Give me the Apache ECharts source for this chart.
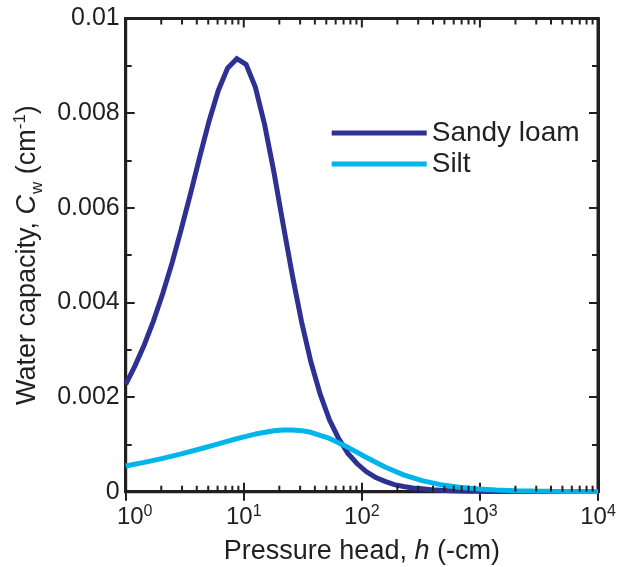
<!DOCTYPE html>
<html><head><meta charset="utf-8">
<script src="https://cdn.jsdelivr.net/npm/echarts@6/dist/echarts.min.js"></script>
<style>html,body{margin:0;padding:0;background:#fff}#c{width:627px;height:567px}</style>
</head><body><div id="c"></div>
<script>
// Pressure head h (-cm), log-spaced sample points
const hSandy = [1, 1.198, 1.435, 1.719, 2.059, 2.467, 2.955, 3.540, 4.241, 5.080,
  6.085, 7.290, 8.733, 10.46, 12.53, 15.01, 17.98, 21.54, 25.81, 30.92,
  37.04, 44.37, 53.15, 63.68, 76.28, 91.38, 109.5, 131.1, 157.1, 188.2,
  225.4, 270.0, 323.5, 387.5, 464.2, 556.1, 666.2, 798.0, 956.0, 1145,
  1372, 1643, 1969, 2358, 2825, 3384, 4054, 4857, 5818, 6970, 8350, 10000];
const cwSandy = [0.00227, 0.00266, 0.00310, 0.00361, 0.00419, 0.00483, 0.00555, 0.00630, 0.00708, 0.00783,
  0.00848, 0.00895, 0.00915, 0.00903, 0.00855, 0.00776, 0.00676, 0.00565, 0.00457, 0.00358,
  0.00274, 0.00206, 0.00152, 0.00112, 0.00081, 0.00059, 0.00042, 0.00030, 0.00022, 0.00015,
  0.00011, 0.00008, 0.00006, 0.00004, 0.00003, 0.00002, 0.000014, 0.00001, 0.000007, 0.000005,
  0.000004, 0.000003, 0.000002, 0.000001, 0.000001, 0.000001, 0, 0, 0, 0, 0, 0];
const hSilt = [1, 1.435, 2.059, 2.955, 4.241, 6.085, 8.733, 12.53, 17.98, 21.54,
  25.81, 30.92, 37.04, 53.15, 76.28, 109.5, 157.1, 225.4, 323.5, 464.2,
  666.2, 956.0, 1372, 1969, 2825, 4054, 5818, 8350, 10000];
const cwSilt = [0.000544, 0.000620, 0.000705, 0.000800, 0.000903, 0.001012, 0.001121, 0.001218, 0.001287, 0.001304,
  0.001306, 0.001290, 0.001255, 0.001126, 0.000937, 0.000723, 0.000521, 0.000356, 0.000234, 0.000150,
  0.000094, 0.000058, 0.000036, 0.000022, 0.000013, 0.000008, 0.000005, 0.000003, 0.000002];
const seriesNames = ['Sandy loam', 'Silt'];
const xMinorTicks = [2,3,4,5,6,7,8,9,20,30,40,50,60,70,80,90,200,300,400,500,600,700,800,900,
  2000,3000,4000,5000,6000,7000,8000,9000];
const xMajorTicks = [10, 100, 1000];
const yTickLabels = ['0', '0.002', '0.004', '0.006', '0.008', '0.01'];

const INK = '#231f20';
const FONT = '"Liberation Sans", Arial, Helvetica, sans-serif';
const chart = echarts.init(document.getElementById('c'), null, {renderer: 'canvas'});

const grid = {left: 125.7, right: 29, top: 18.5, bottom: 75.3, outerBoundsMode: 'none', containLabel: false,
  show: true, borderColor: INK, borderWidth: 3, backgroundColor: 'transparent'};
const axisLineStyle = {show: true, lineStyle: {color: INK, width: 3}};
const majorTick = {show: true, inside: true, length: 9, lineStyle: {color: INK, width: 2}};
const minorTickY = {show: true, splitNumber: 2, length: 6, lineStyle: {color: INK, width: 2}};

function xLabelFmt(v) {
  const e = Math.round(Math.log10(v));
  return (e === 0 ? '{b0|10}' : '{b|10}') + '{s|' + e + '}';
}
const xRich = {
  b: {fontSize: 24, fontFamily: FONT, color: INK, lineHeight: 28},
  b0: {fontSize: 24, fontFamily: FONT, color: INK, lineHeight: 28, padding: [0, 0, 0, 18]},
  s: {fontSize: 16, fontFamily: FONT, color: INK, lineHeight: 16, verticalAlign: 'top'}
};

const tickData = xMinorTicks.map(v => [v, 6, 1]).concat(xMajorTicks.map(v => [v, 9, 0]));

const option = {
  backgroundColor: '#fff',
  animation: false,
  grid: grid,
  legend: {
    data: seriesNames,
    orient: 'vertical',
    left: 326.7, top: 114,
    itemWidth: 95, itemHeight: 5, itemGap: 3,
    icon: 'rect',
    textStyle: {fontSize: 28, fontFamily: FONT, color: INK},
    selectedMode: false
  },
  xAxis: [{
    type: 'log', logBase: 10, min: 1, max: 10000, position: 'bottom',
    name: '{n|Pressure head, }{i|h}{n| (-cm)}',
    nameLocation: 'middle', nameGap: 46,
    nameTextStyle: {rich: {
      n: {fontSize: 27, fontFamily: FONT, color: INK},
      i: {fontSize: 27, fontFamily: FONT, color: INK, fontStyle: 'italic'}
    }},
    axisLine: axisLineStyle, axisTick: majorTick,
    axisLabel: {show: true, margin: 12, formatter: xLabelFmt, rich: xRich},
    splitLine: {show: false}, minorTick: {show: false}
  }, {
    type: 'log', logBase: 10, min: 1, max: 10000, position: 'top',
    axisLine: axisLineStyle, axisTick: majorTick, axisLabel: {show: false},
    splitLine: {show: false}, minorTick: {show: false}
  }],
  yAxis: [{
    type: 'value', min: 0, max: 0.01, interval: 0.002, position: 'left',
    name: '{n|Water capacity, }{i|C}{sub|w}{n| (cm}{sup|-1}{n|)}',
    nameLocation: 'middle', nameGap: 76, nameRotate: 90,
    nameTextStyle: {rich: {
      n: {fontSize: 27, fontFamily: FONT, color: INK, lineHeight: 30},
      i: {fontSize: 27, fontFamily: FONT, color: INK, fontStyle: 'italic', lineHeight: 30},
      sub: {fontSize: 17, fontFamily: FONT, color: INK, verticalAlign: 'bottom', lineHeight: 17, padding: [0, 0, -4, 1]},
      sup: {fontSize: 17, fontFamily: FONT, color: INK, verticalAlign: 'top', lineHeight: 17}
    }},
    axisLine: axisLineStyle, axisTick: majorTick, minorTick: minorTickY,
    axisLabel: {show: true, margin: 6, fontSize: 25, fontFamily: FONT, color: INK,
      formatter: (v) => yTickLabels[Math.round(v / 0.002)]},
    splitLine: {show: false}
  }, {
    type: 'value', min: 0, max: 0.01, interval: 0.002, position: 'right',
    axisLine: axisLineStyle, axisTick: majorTick, minorTick: minorTickY,
    axisLabel: {show: false}, splitLine: {show: false}
  }],
  series: [{
    name: seriesNames[0], type: 'line', xAxisIndex: 0, yAxisIndex: 0,
    data: hSandy.map((h, i) => [h, cwSandy[i]]),
    showSymbol: false, symbol: 'none', color: '#2e3192',
    lineStyle: {width: 5, color: '#2e3192', join: 'miter'}, z: 3
  }, {
    name: seriesNames[1], type: 'line', xAxisIndex: 0, yAxisIndex: 0,
    data: hSilt.map((h, i) => [h, cwSilt[i]]),
    showSymbol: false, symbol: 'none', smooth: false, color: '#00b4ec',
    lineStyle: {width: 5, color: '#00b4ec'}, z: 4
  }, {
    name: 'axisTicks', type: 'custom', xAxisIndex: 1, yAxisIndex: 1,
    data: tickData,
    silent: true, clip: false, z: 5,
    renderItem: function (params, api) {
      const v = api.value(0);
      const len = api.value(1);
      const both = api.value(2) === 1;
      const pb = api.coord([v, 0]);
      const pt = api.coord([v, 0.01]);
      const st = {stroke: INK, lineWidth: 2};
      const children = [
        {type: 'line', shape: {x1: pt[0], y1: pt[1], x2: pt[0], y2: pt[1] + len}, style: st}
      ];
      if (both) {
        children.push({type: 'line', shape: {x1: pb[0], y1: pb[1], x2: pb[0], y2: pb[1] - len}, style: st});
      }
      return {type: 'group', children: children};
    }
  }]
};
chart.setOption(option);
</script>
</body></html>
